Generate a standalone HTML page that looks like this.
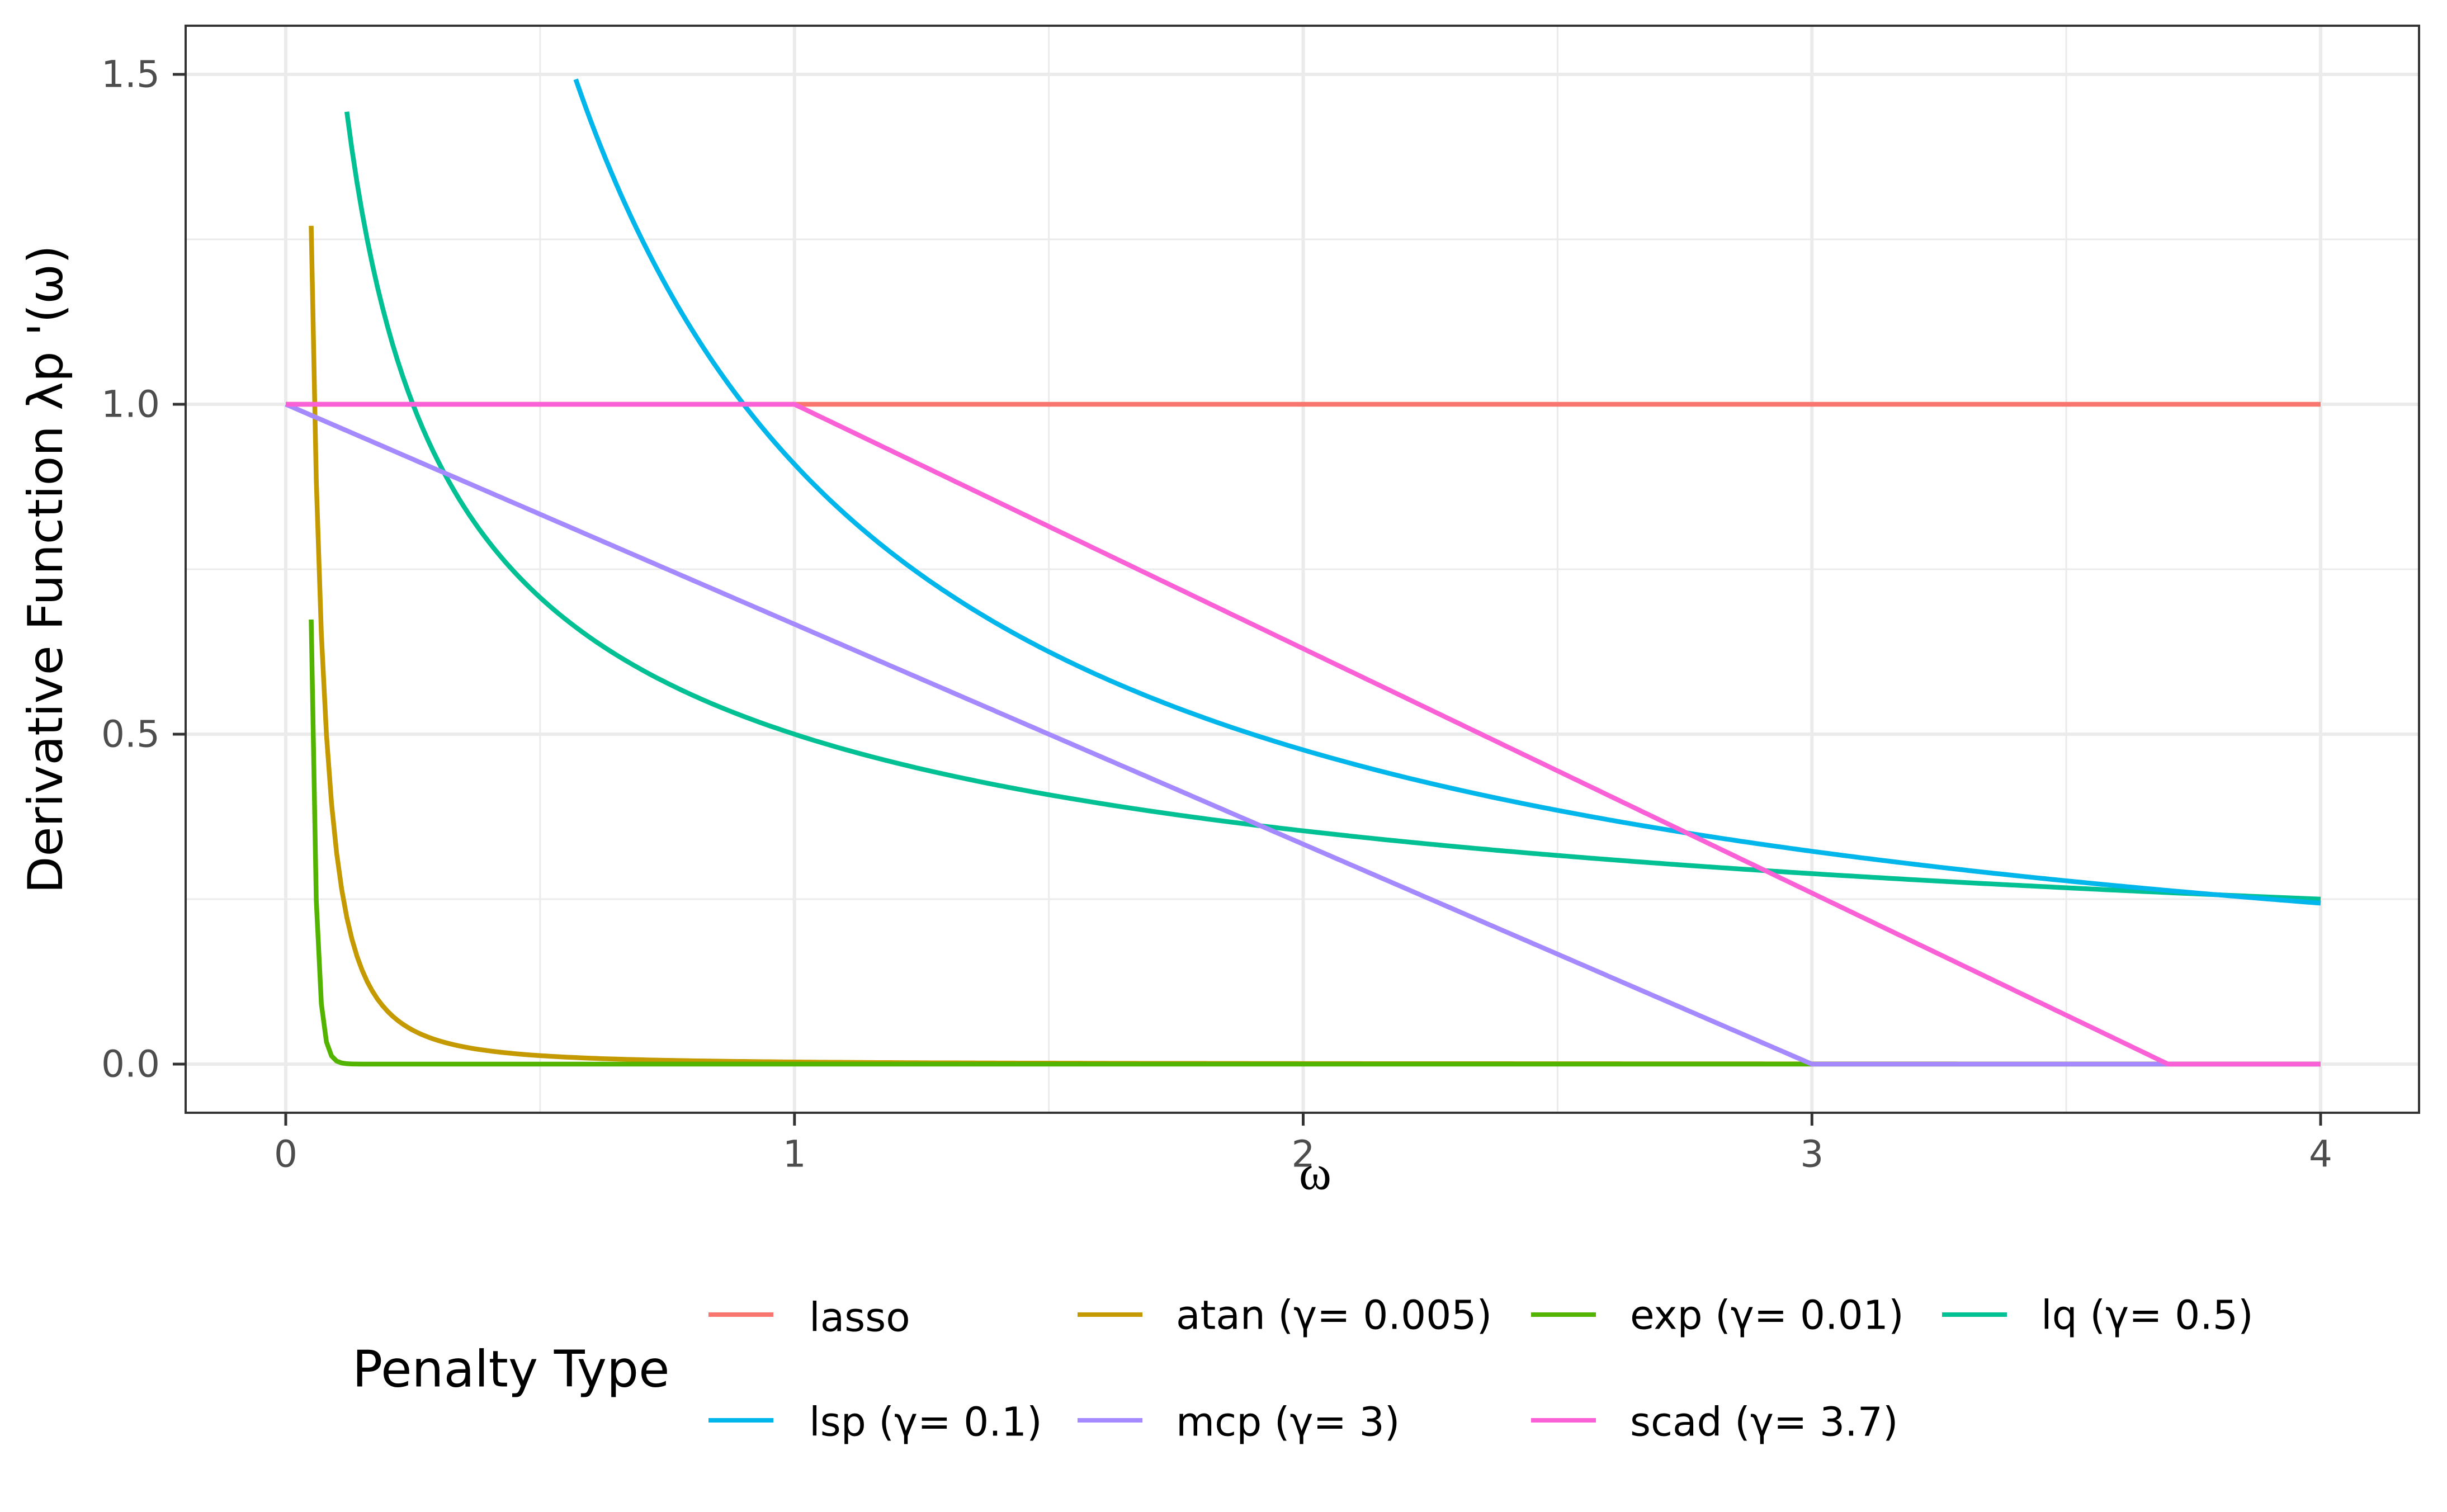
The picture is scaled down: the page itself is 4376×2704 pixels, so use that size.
<!DOCTYPE html>
<html><head><meta charset="utf-8"><style>html,body{margin:0;padding:0;background:#fff}svg{display:block}</style></head>
<body>
<svg id="s" width="4376" height="2704" xmlns="http://www.w3.org/2000/svg" font-family="DejaVu Sans, Liberation Sans, sans-serif">
<rect width="4376" height="2704" fill="#fff"/>
<g id="grid"></g>
<g id="series" fill="none" stroke-width="8.5" stroke-linejoin="round" stroke-linecap="butt"></g>
<rect x="332" y="46" width="3994" height="1944" fill="none" stroke="#333" stroke-width="4"/>
<g stroke="#333" stroke-width="5">
<line x1="309" y1="133" x2="332" y2="133"/><line x1="309" y1="723" x2="332" y2="723"/><line x1="309" y1="1313" x2="332" y2="1313"/><line x1="309" y1="1903" x2="332" y2="1903"/>
<line x1="511" y1="1990" x2="511" y2="2013"/><line x1="1420.8" y1="1990" x2="1420.8" y2="2013"/><line x1="2330.5" y1="1990" x2="2330.5" y2="2013"/><line x1="3240.3" y1="1990" x2="3240.3" y2="2013"/><line x1="4150" y1="1990" x2="4150" y2="2013"/>
</g>
<g fill="#4D4D4D" font-size="66" text-anchor="end" dominant-baseline="central">
<text x="286" y="133">1.5</text><text x="286" y="723">1.0</text><text x="286" y="1313">0.5</text><text x="286" y="1903">0.0</text>
</g>
<g fill="#4D4D4D" font-size="66" text-anchor="middle" dominant-baseline="central">
<text x="511" y="2064">0</text><text x="1420.8" y="2064">1</text><text x="2330.5" y="2064">2</text><text x="3240.3" y="2064">3</text><text x="4150" y="2064">4</text>
</g>
<text x="2352" y="2098" font-size="88" text-anchor="middle" dominant-baseline="central" font-family="Liberation Serif, DejaVu Serif, serif">ω</text>
<text transform="translate(82,1018) rotate(-90)" font-size="86" text-anchor="middle" dominant-baseline="central">Derivative Function λp '(ω)</text>
<text x="630" y="2449" font-size="90" dominant-baseline="central">Penalty Type</text>
<g stroke-width="8">
<line x1="1267" y1="2351" x2="1383" y2="2351" stroke="#F8766D"/>
<line x1="1927" y1="2351" x2="2043" y2="2351" stroke="#C49A00"/>
<line x1="2738" y1="2351" x2="2854" y2="2351" stroke="#53B400"/>
<line x1="3473" y1="2351" x2="3589" y2="2351" stroke="#00C094"/>
<line x1="1267" y1="2540" x2="1383" y2="2540" stroke="#00B6EB"/>
<line x1="1927" y1="2540" x2="2043" y2="2540" stroke="#A58AFF"/>
<line x1="2738" y1="2540" x2="2854" y2="2540" stroke="#FB61D7"/>
</g>
<g font-size="71" fill="#000" dominant-baseline="central">
<text x="1447" y="2356">lasso</text><text x="2103" y="2352">atan (γ= 0.005)</text><text x="2915" y="2352">exp (γ= 0.01)</text><text x="3650" y="2352">lq (γ= 0.5)</text>
<text x="1447" y="2543">lsp (γ= 0.1)</text><text x="2103" y="2543">mcp (γ= 3)</text><text x="2915" y="2543">scad (γ= 3.7)</text>
</g>
</svg>
<script>
var NS="http://www.w3.org/2000/svg";
function X(w){return 511+w*909.75}
function Y(v){return 1903-v*1180}
var g=document.getElementById('grid');
function ln(p,x1,y1,x2,y2,c,w){var l=document.createElementNS(NS,'line');l.setAttribute('x1',x1);l.setAttribute('y1',y1);l.setAttribute('x2',x2);l.setAttribute('y2',y2);l.setAttribute('stroke',c);l.setAttribute('stroke-width',w);p.appendChild(l);}
[0.5,1.5,2.5,3.5].forEach(function(v){ln(g,X(v),46,X(v),1990,'#EBEBEB',3)});
[0.25,0.75,1.25].forEach(function(v){ln(g,332,Y(v),4326,Y(v),'#EBEBEB',3)});
[0,1,2,3,4].forEach(function(v){ln(g,X(v),46,X(v),1990,'#EBEBEB',6)});
[0,0.5,1,1.5].forEach(function(v){ln(g,332,Y(v),4326,Y(v),'#EBEBEB',6)});
var s=document.getElementById('series');
var fs=[
['#F8766D',function(w){return 1}],
['#C49A00',function(w){return (0.005+2/Math.PI)*0.005/(0.005*0.005+w*w)}],
['#53B400',function(w){return 100*Math.exp(-w/0.01)}],
['#00C094',function(w){return 0.5*Math.pow(w,-0.5)}],
['#00B6EB',function(w){return 1/(0.1+w)}],
['#A58AFF',function(w){return Math.max(0,1-w/3)}],
['#FB61D7',function(w){return w<=1?1:Math.max(0,(3.7-w)/2.7)}]
];
fs.forEach(function(f){var d='';var started=false;
for(var i=0;i<=400;i++){var w=i/100;var v=f[1](w);if(!isFinite(v)||v>1.5)continue;d+=(started?'L':'M')+X(w).toFixed(1)+' '+Y(v).toFixed(1);started=true;}
var p=document.createElementNS(NS,'path');p.setAttribute('d',d);p.setAttribute('stroke',f[0]);s.appendChild(p);});
</script>
</body></html>
